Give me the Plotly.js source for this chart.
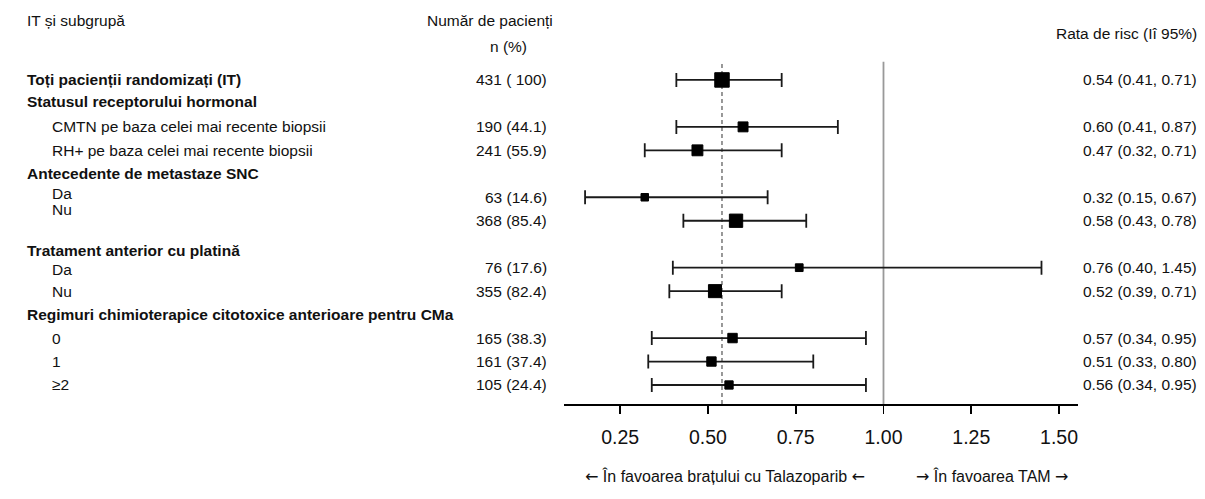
<!DOCTYPE html>
<html>
<head>
<meta charset="utf-8">
<script src="https://cdn.plot.ly/plotly-3.0.1.min.js"></script>
<style>html,body{margin:0;padding:0;background:#fff;}#chart{width:1205px;height:499px;}</style>
</head>
<body>
<div id="chart"></div>
<script>
// ---- data ----
const rowLabels = [
  "Toți pacienții randomizați (IT)",
  "Statusul receptorului hormonal",
  "CMTN pe baza celei mai recente biopsii",
  "RH+ pe baza celei mai recente biopsii",
  "Antecedente de metastaze SNC",
  "Da",
  "Nu",
  "Tratament anterior cu platină",
  "Da",
  "Nu",
  "Regimuri chimioterapice citotoxice anterioare pentru CMa",
  "0",
  "1",
  "≥2"
];
const boldRow = [true, true, false, false, true, false, false, true, false, false, true, false, false, false];
const nPatients = [431, null, 190, 241, null, 63, 368, null, 76, 355, null, 165, 161, 105];
const nPercent  = [100, null, 44.1, 55.9, null, 14.6, 85.4, null, 17.6, 82.4, null, 38.3, 37.4, 24.4];
const hazardRatio = [0.54, null, 0.60, 0.47, null, 0.32, 0.58, null, 0.76, 0.52, null, 0.57, 0.51, 0.56];
const ciLower     = [0.41, null, 0.41, 0.32, null, 0.15, 0.43, null, 0.40, 0.39, null, 0.34, 0.33, 0.34];
const ciUpper     = [0.71, null, 0.87, 0.71, null, 0.67, 0.78, null, 1.45, 0.71, null, 0.95, 0.80, 0.95];
const tickValues = [0.25, 0.50, 0.75, 1.00, 1.25, 1.50];
const tickLabels = ["0.25", "0.50", "0.75", "1.00", "1.25", "1.50"];
const headerLabel = "IT și subgrupă";
const countHeader1 = "Număr de pacienți";
const countHeader2 = "n (%)";
const hrHeader = "Rata de risc (Iî 95%)";
const favourLeftText = "În favoarea brațului cu Talazoparib";
const favourRightText = "În favoarea TAM";

// ---- layout helpers ----
const W = 1205, H = 499;
const M = {l: 564, r: 127, t: 60, b: 95};
const PW = W - M.l - M.r, PH = H - M.t - M.b;
const px = v => (v - M.l) / PW;          // pixel x -> paper
const py = v => (H - M.b - v) / PH;      // pixel y -> paper
const FONT = "Liberation Sans, Arial, sans-serif";
const TXT = "#111";
const FS = 15.5;
const labelX = boldRow.map(b => b ? 25 : 50);
const labelNudge = [0, 2, 0, 0, 0, 4, 11, -6, -2, 0, 0, 0, 0, 0];
const arrowL = '<span style="font-family:DejaVu Sans">←</span>';
const arrowR = '<span style="font-family:DejaVu Sans">→</span>';

const rowIdx = rowLabels.map((_, i) => i);
const xs = [], ys = [], ep = [], em = [], ms = [];
rowIdx.forEach(i => {
  if (hazardRatio[i] === null) return;
  xs.push(hazardRatio[i]);
  ys.push(i);
  ep.push(ciUpper[i] - hazardRatio[i]);
  em.push(hazardRatio[i] - ciLower[i]);
  ms.push(6.3 + nPatients[i] * 0.019);
});

const trace = {
  type: "scatter", mode: "markers",
  x: xs, y: ys,
  marker: {symbol: "square", color: "#000", size: ms, opacity: 1, line: {width: 1, color: "#000"}},
  error_x: {type: "data", symmetric: false, array: ep, arrayminus: em,
            color: "#1a1a1a", thickness: 1.8, width: 7},
  hoverinfo: "skip", showlegend: false
};

const ann = [];
rowIdx.forEach(i => {
  ann.push({xref: "paper", yref: "y", x: px(labelX[i]), y: i, yshift: labelNudge[i],
    xanchor: "left", yanchor: "middle", showarrow: false,
    text: boldRow[i] ? "<b>" + rowLabels[i] + "</b>" : rowLabels[i],
    font: {family: FONT, size: FS, color: TXT}});
  if (nPatients[i] !== null) {
    const pct = nPercent[i] === 100 ? " 100" : nPercent[i].toFixed(1);
    ann.push({xref: "paper", yref: "y", x: px(549), y: i,
      xanchor: "right", yanchor: "middle", showarrow: false,
      text: nPatients[i] + " (" + pct + ")",
      font: {family: FONT, size: FS, color: TXT}});
    ann.push({xref: "paper", yref: "y", x: px(1199), y: i,
      xanchor: "right", yanchor: "middle", showarrow: false,
      text: hazardRatio[i].toFixed(2) + " (" + ciLower[i].toFixed(2) + ", " + ciUpper[i].toFixed(2) + ")",
      font: {family: FONT, size: FS, color: TXT}});
  }
});
const hdr = (t, x, y, xa, fs) => ann.push({xref: "paper", yref: "paper", x: px(x), y: py(y),
  xanchor: xa, yanchor: "middle", showarrow: false, text: t,
  font: {family: FONT, size: fs || FS, color: TXT}});
hdr(headerLabel, 25, 20, "left");
hdr(countHeader1, 490, 20, "center");
hdr(countHeader2, 508, 47, "center");
hdr(hrHeader, 1199, 33, "right");
hdr(arrowL + " " + favourLeftText + " " + arrowL, 725, 476, "center", 16);
hdr(arrowR + " " + favourRightText + " " + arrowR, 992, 476, "center", 16);

const layout = {
  width: W, height: H, margin: M,
  paper_bgcolor: "#fff", plot_bgcolor: "#fff",
  xaxis: {range: [0.09, 1.554], tickvals: tickValues, ticktext: tickLabels,
    showline: true, linecolor: "#000", linewidth: 1.6, ticks: "outside", ticklen: 8,
    tickwidth: 1.6, tickcolor: "#000", showgrid: false, zeroline: false,
    ticklabelstandoff: 7,
    tickfont: {family: FONT, size: 19.5, color: TXT}, fixedrange: true},
  yaxis: {range: [13.81, -0.85], visible: false, fixedrange: true},
  shapes: [
    {type: "line", xref: "x", yref: "paper", x0: 1, x1: 1, y0: 0, y1: 0.995,
     line: {color: "#999", width: 1.8}, layer: "below"},
    {type: "line", xref: "x", yref: "paper", x0: hazardRatio[0], x1: hazardRatio[0], y0: 0, y1: 0.995,
     line: {color: "#555", width: 1.2, dash: "4px,3px"}, layer: "below"}
  ],
  annotations: ann
};

Plotly.newPlot("chart", [trace], layout, {displayModeBar: false, staticPlot: true});
</script>
</body>
</html>
